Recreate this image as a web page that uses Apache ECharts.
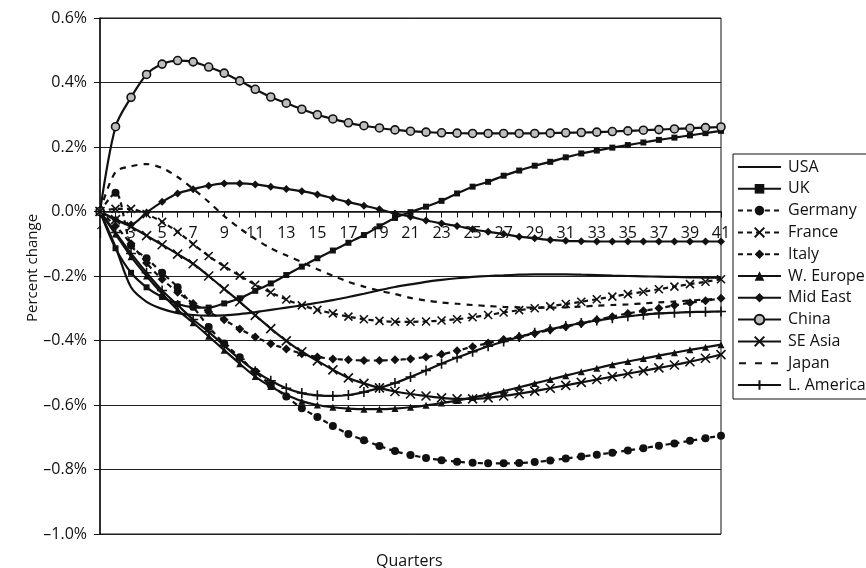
<!DOCTYPE html>
<html>
<head>
<meta charset="utf-8">
<script src="https://cdn.jsdelivr.net/npm/echarts@6/dist/echarts.min.js"></script>
<style>
  html, body { margin: 0; padding: 0; background: #fff; }
  #chart { width: 866px; height: 568px; }
</style>
</head>
<body>
<div id="chart"></div>
<script>
// Quarter labels along the horizontal axis
const quarters = ['1','2','3','4','5','6','7','8','9','10','11','12','13','14','15','16','17','18','19','20',
  '21','22','23','24','25','26','27','28','29','30','31','32','33','34','35','36','37','38','39','40','41'];

// Percent change by region, one value per quarter
const usa = [0, -0.110, -0.235, -0.280, -0.302, -0.315, -0.321, -0.323, -0.322, -0.318, -0.312, -0.305, -0.298, -0.291,
  -0.283, -0.275, -0.265, -0.255, -0.244, -0.234, -0.226, -0.218, -0.212, -0.207, -0.203, -0.200, -0.198, -0.196,
  -0.195, -0.195, -0.195, -0.196, -0.197, -0.199, -0.200, -0.201, -0.202, -0.203, -0.204, -0.205, -0.206];
const uk = [0, -0.114, -0.190, -0.235, -0.265, -0.287, -0.297, -0.298, -0.285, -0.269, -0.246, -0.223, -0.197, -0.171,
  -0.145, -0.121, -0.097, -0.073, -0.046, -0.020, -0.002, 0.015, 0.033, 0.056, 0.077, 0.092, 0.111, 0.127, 0.142,
  0.154, 0.168, 0.180, 0.189, 0.198, 0.206, 0.214, 0.222, 0.229, 0.236, 0.243, 0.250];
const germany = [0, 0.058, -0.105, -0.145, -0.190, -0.235, -0.295, -0.358, -0.409, -0.452, -0.497, -0.538, -0.574,
  -0.610, -0.637, -0.665, -0.690, -0.709, -0.727, -0.743, -0.755, -0.764, -0.771, -0.776, -0.779, -0.781, -0.781,
  -0.780, -0.777, -0.772, -0.766, -0.760, -0.754, -0.748, -0.741, -0.734, -0.726, -0.719, -0.711, -0.703, -0.695];
const france = [0, 0.008, 0.008, -0.008, -0.032, -0.063, -0.101, -0.138, -0.170, -0.199, -0.227, -0.251, -0.273,
  -0.291, -0.305, -0.316, -0.326, -0.334, -0.339, -0.342, -0.342, -0.341, -0.338, -0.334, -0.328, -0.321, -0.313,
  -0.306, -0.300, -0.294, -0.287, -0.280, -0.272, -0.264, -0.256, -0.249, -0.241, -0.233, -0.225, -0.218, -0.210];
const italy = [0, -0.045, -0.100, -0.160, -0.210, -0.250, -0.285, -0.312, -0.336, -0.364, -0.389, -0.410, -0.426,
  -0.441, -0.451, -0.457, -0.460, -0.462, -0.462, -0.460, -0.457, -0.451, -0.443, -0.432, -0.419, -0.408, -0.397,
  -0.388, -0.378, -0.367, -0.357, -0.347, -0.336, -0.326, -0.316, -0.308, -0.300, -0.291, -0.283, -0.277, -0.269];
const wEurope = [0, -0.070, -0.140, -0.200, -0.255, -0.305, -0.345, -0.387, -0.430, -0.472, -0.512, -0.543, -0.568,
  -0.588, -0.600, -0.607, -0.611, -0.613, -0.613, -0.611, -0.607, -0.601, -0.594, -0.586, -0.577, -0.568, -0.557,
  -0.545, -0.533, -0.521, -0.509, -0.497, -0.486, -0.475, -0.465, -0.456, -0.447, -0.438, -0.429, -0.421, -0.413];
const midEast = [0, -0.025, -0.040, -0.003, 0.030, 0.056, 0.069, 0.080, 0.087, 0.087, 0.084, 0.077, 0.070, 0.063,
  0.053, 0.041, 0.029, 0.018, 0.007, -0.006, -0.016, -0.028, -0.037, -0.045, -0.055, -0.063, -0.070, -0.078,
  -0.083, -0.088, -0.091, -0.092, -0.093, -0.093, -0.093, -0.093, -0.093, -0.093, -0.093, -0.093, -0.093];
const china = [0, 0.263, 0.354, 0.425, 0.457, 0.468, 0.464, 0.448, 0.429, 0.405, 0.379, 0.355, 0.336, 0.317, 0.300,
  0.287, 0.275, 0.266, 0.259, 0.253, 0.249, 0.246, 0.244, 0.243, 0.242, 0.242, 0.242, 0.242, 0.242, 0.243, 0.244,
  0.245, 0.246, 0.248, 0.250, 0.252, 0.254, 0.256, 0.258, 0.260, 0.262];
const seAsia = [0, -0.025, -0.047, -0.075, -0.103, -0.132, -0.162, -0.200, -0.240, -0.280, -0.322, -0.363, -0.401,
  -0.435, -0.463, -0.491, -0.516, -0.533, -0.547, -0.558, -0.566, -0.572, -0.578, -0.581, -0.581, -0.578, -0.572,
  -0.565, -0.557, -0.548, -0.539, -0.530, -0.521, -0.512, -0.503, -0.494, -0.485, -0.476, -0.466, -0.455, -0.444];
const japan = [0, 0.123, 0.140, 0.147, 0.135, 0.107, 0.070, 0.030, -0.014, -0.052, -0.085, -0.114, -0.136, -0.157,
  -0.179, -0.199, -0.218, -0.233, -0.246, -0.256, -0.268, -0.276, -0.282, -0.286, -0.290, -0.293, -0.296, -0.297,
  -0.298, -0.298, -0.297, -0.295, -0.292, -0.290, -0.288, -0.285, -0.282, -0.279, -0.276, -0.273, -0.270];
const lAmerica = [0, -0.065, -0.130, -0.190, -0.245, -0.290, -0.335, -0.373, -0.416, -0.458, -0.495, -0.525, -0.548,
  -0.563, -0.570, -0.572, -0.569, -0.560, -0.547, -0.532, -0.513, -0.493, -0.472, -0.453, -0.435, -0.418, -0.403,
  -0.389, -0.376, -0.365, -0.355, -0.346, -0.338, -0.331, -0.325, -0.320, -0.316, -0.314, -0.312, -0.311, -0.310];

const Y_MIN = -1.0, Y_MAX = 0.6;
const INK = '#111';
const FONT = '"Open Sans", "Noto Sans", sans-serif';
const CROSS = 'path://M0,0L10,10M10,0L0,10';
const PLUS = 'path://M5,0L5,10M0,5L10,5';
const DASH = [5, 4];

// Legend swatches for the two marker-less series: a plain bar and a dashed bar
const SOLID_ICON = 'path://M0,0M43,12M0,5H43V7H0Z';
const DASH_ICON = 'path://M0,0M43,12M1,5H8V7H1ZM17,5H24V7H17ZM33,5H40V7H33Z';

const GRID = { left: 100, top: 18, right: 145, bottom: 34 };
const PLOT_H = 568 - GRID.top - GRID.bottom;

function line(name, data, opts) {
  const o = opts || {};
  return {
    name: name,
    type: 'line',
    data: data,
    smooth: 0.3,
    showAllSymbol: true,
    symbol: o.symbol || 'none',
    symbolSize: o.size || 7,
    lineStyle: { color: INK, width: 2.2, type: o.dash || 'solid' },
    itemStyle: {
      color: o.fill || INK,
      borderColor: INK,
      borderWidth: o.border != null ? o.border : 0
    },
    emphasis: { disabled: true },
    z: 3
  };
}

const chart = echarts.init(document.getElementById('chart'), null, { renderer: 'canvas' });
chart.setOption({
  animation: false,
  backgroundColor: '#fff',
  textStyle: { fontFamily: FONT },
  grid: Object.assign({}, GRID, {
    show: true, borderColor: INK, borderWidth: 1, backgroundColor: 'transparent'
  }),
  legend: {
    orient: 'vertical',
    left: 733, top: 154,
    padding: [5, 6, 6, 4],
    itemWidth: 43, itemHeight: 12, itemGap: 5.8,
    borderColor: INK, borderWidth: 1, borderRadius: 0,
    backgroundColor: '#fff',
    textStyle: { fontFamily: FONT, fontSize: 16, lineHeight: 16, color: INK, padding: [0, 0, 0, 2] },
    data: [
      { name: 'USA', icon: SOLID_ICON },
      'UK', 'Germany', 'France', 'Italy', 'W. Europe', 'Mid East', 'China', 'SE Asia',
      { name: 'Japan', icon: DASH_ICON },
      'L. America'
    ]
  },
  xAxis: {
    type: 'category',
    data: quarters,
    boundaryGap: false,
    position: 'bottom',
    // the category axis runs along the 0.0% line
    offset: -PLOT_H * (0 - Y_MIN) / (Y_MAX - Y_MIN),
    axisLine: { onZero: false, lineStyle: { color: INK, width: 1.5 } },
    axisTick: { show: true, interval: 0, length: 6, lineStyle: { color: INK, width: 1 } },
    axisLabel: { interval: 1, margin: 14, fontFamily: FONT, fontSize: 16, color: INK },
    splitLine: { show: false }
  },
  yAxis: {
    type: 'value',
    min: Y_MIN, max: Y_MAX, interval: 0.2,
    axisLine: { show: true, lineStyle: { color: INK, width: 1.5 } },
    axisTick: { show: true, length: 6, lineStyle: { color: INK } },
    axisLabel: {
      margin: 13, fontFamily: FONT, fontSize: 16, color: INK,
      formatter: function (v) {
        const s = Math.abs(v).toFixed(1) + '%';
        return v < -1e-9 ? '\u2013' + s : s;
      }
    },
    splitLine: { show: true, lineStyle: { color: '#222', width: 1.2 } }
  },
  graphic: [
    { type: 'text', left: 376, top: 553,
      style: { text: 'Quarters', font: '16px ' + FONT, fill: INK } },
    { type: 'text', x: 33, y: 268, rotation: Math.PI / 2,
      style: { text: 'Percent change', font: '15px ' + FONT, fill: INK, align: 'center', verticalAlign: 'middle' } }
  ],
  series: [
    line('USA', usa),
    line('UK', uk, { symbol: 'rect', size: 6 }),
    line('Germany', germany, { symbol: 'circle', size: 8, dash: DASH }),
    line('France', france, { symbol: CROSS, size: 8, dash: DASH, border: 1.6 }),
    line('Italy', italy, { symbol: 'diamond', size: 9, dash: DASH }),
    line('W. Europe', wEurope, { symbol: 'triangle', size: 7 }),
    line('Mid East', midEast, { symbol: 'diamond', size: 8 }),
    line('China', china, { symbol: 'circle', size: 8, fill: '#bdbdbd', border: 1.6 }),
    line('SE Asia', seAsia, { symbol: CROSS, size: 9, border: 1.6 }),
    line('Japan', japan, { dash: [6, 6] }),
    line('L. America', lAmerica, { symbol: PLUS, size: 10, border: 1.6 })
  ]
});
</script>
</body>
</html>
